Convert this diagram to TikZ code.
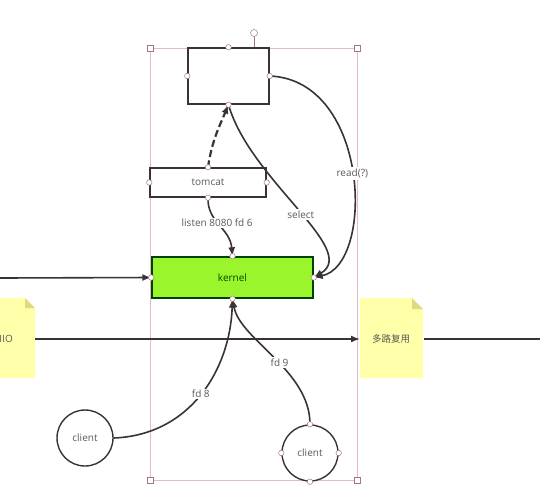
\documentclass[tikz,border=0pt]{standalone}
\usepackage{fontspec}
\setmainfont{Open Sans}
\newfontfamily\cjk{Noto Sans CJK SC}
\usetikzlibrary{arrows.meta}
\definecolor{linec}{HTML}{3A3333}
\definecolor{txt}{HTML}{5A5A5A}
\definecolor{notey}{HTML}{FFFFAA}
\definecolor{foldy}{HTML}{DEDA7E}
\definecolor{kgreen}{HTML}{9AF52C}
\definecolor{selc}{HTML}{E8B8C2}
\definecolor{handc}{HTML}{A07878}
\tikzset{
  box/.style={draw=linec, line width=1.4pt, fill=white, inner sep=0pt},
  conn/.style={draw=linec, line width=1.6pt, -{Latex[length=9pt,width=7pt]}},
  lbl/.style={fill=white, text=txt, font=\fontsize{10}{12}\selectfont, inner sep=1.5pt},
  handle/.style={circle, draw=handc, fill=white, line width=0.5pt, minimum size=5.5pt, inner sep=0pt},
  sqhandle/.style={rectangle, draw=handc, fill=white, line width=0.5pt, minimum size=6pt, inner sep=0pt},
  clientc/.style={circle, draw=linec, line width=1.4pt, fill=white, minimum size=56pt, inner sep=0pt, text=txt, font=\fontsize{10}{12}\selectfont},
}
\begin{document}
\begin{tikzpicture}[x=1pt,y=-1pt]
\useasboundingbox (0,0) rectangle (540,499);
% selection frame
\draw[selc, line width=0.5pt] (150,48) rectangle (357,480);
\draw[handc, line width=0.5pt] (254,36) -- (254,48);
\node[handle, minimum size=7pt] (rot) at (254,33) {};
% notes
\fill[notey] (0,298) -- (25,298) -- (35,308) -- (35,378) -- (0,378) -- cycle;
\fill[foldy] (25,298) -- (35,308) -- (25,308) -- cycle;
\node[text=txt, font=\fontsize{10}{12}\selectfont, anchor=east, inner sep=0pt] (nio) at (13,339) {IIO};
\fill[notey] (360,298) -- (412,298) -- (423,309) -- (423,378) -- (360,378) -- cycle;
\fill[foldy] (412,298) -- (423,309) -- (412,309) -- cycle;
\node[text=txt, font=\cjk\fontsize{9.5}{11}\selectfont] (mux) at (391,339) {多路复用};
\coordinate (nioE) at (35,339);
\coordinate (muxW) at (360,339);
\coordinate (muxE) at (424,339);
\coordinate (rightEnd) at (540,339);
\coordinate (leftEnd) at (0,278);
% boxes
\node[box, minimum width=81pt, minimum height=56pt] (top) at (228.5,76) {};
\node[box, minimum width=116pt, minimum height=29pt, text=txt, font=\fontsize{10}{12}\selectfont] (tomcat) at (208,182.5) {tomcat};
\node[box, fill=kgreen, draw=black!75!green, minimum width=161pt, minimum height=41pt, text=black!60!green!70!black, font=\fontsize{10}{12}\selectfont] (kernel) at (232.5,277.5) {kernel};
\node[clientc] (c1) at (85,438) {client};
\node[clientc] (c2) at (310,453) {client};
% connectors
\draw[conn] (nioE) -- (muxW);
\draw[linec, line width=1.6pt] (muxE) -- (rightEnd);
\draw[conn] (leftEnd) -- (kernel.west);
\draw[conn, dash pattern=on 7pt off 3.5pt, line width=2.2pt] (tomcat.north) .. controls (212,140) and (220,125) .. (top.south);
\draw[conn] (top.south) .. controls (250,180) and (360,250) .. node[lbl, pos=0.53] {select} (kernel.east);
\draw[conn] (top.east) .. controls (370,80) and (375,265) .. node[lbl, pos=0.5] {read(?)} (kernel.east);
\draw[conn] (tomcat.south) .. controls (207,222) and (230,228) .. node[lbl, pos=0.45] {listen 8080 fd 6} (kernel.north);
\draw[conn] (c1.east) .. controls (190,435) and (230,370) .. node[lbl, pos=0.5] {fd 8} (kernel.south);
\draw[conn] (c2.north) .. controls (310,370) and (240,340) .. node[lbl, pos=0.45] {fd 9} (kernel.south);
% handles
\foreach \a in {north,south,east,west}{
  \node[handle] at (top.\a) {};
  \node[handle] at (tomcat.\a) {};
  \node[handle] at (kernel.\a) {};
  \node[handle] at (c2.\a) {};
}
\node[sqhandle] at (150,48) {};
\node[sqhandle] at (357,48) {};
\node[sqhandle] at (150,480) {};
\node[sqhandle] at (357,480) {};
\end{tikzpicture}
\end{document}
